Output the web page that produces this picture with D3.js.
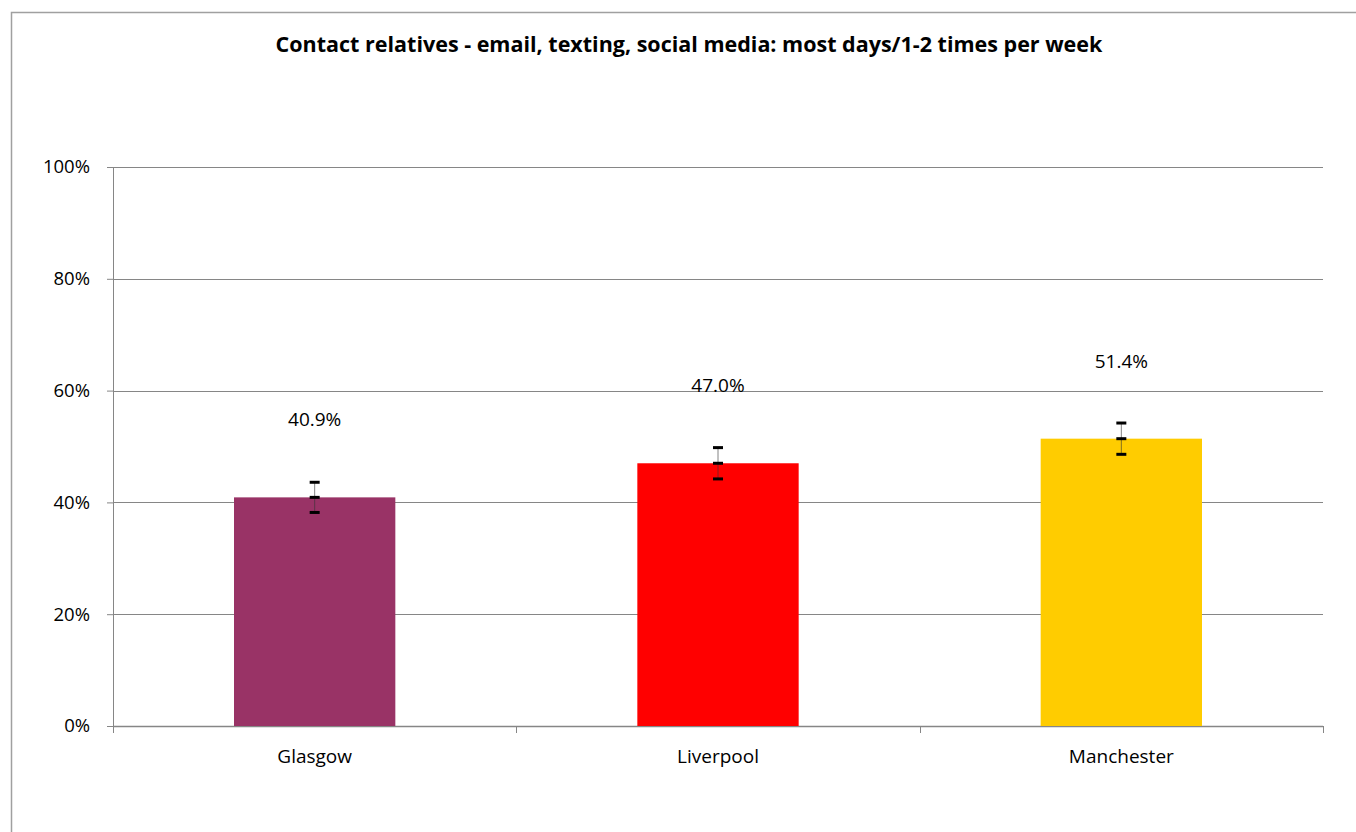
<!DOCTYPE html>
<html>
<head>
<meta charset="utf-8">
<script src="https://cdn.jsdelivr.net/npm/d3@7"></script>
<style>
  body { margin: 0; background: #fff; }
  svg { display: block; font-family: "Open Sans", "Noto Sans", sans-serif; }
</style>
</head>
<body>
<svg id="chart" width="1356" height="832"></svg>
<script>
// chart data
const cities = ['Glasgow', 'Liverpool', 'Manchester'];
const shares = [40.9, 47.0, 51.4];
const errors = [2.7, 2.8, 2.8];
const barColors = ['#993366', '#ff0000', '#ffcc00'];
const yTicks = [0, 20, 40, 60, 80, 100];
const titleText = 'Contact relatives - email, texting, social media: most days/1-2 times per week';

const svg = d3.select('#chart');

// plot area
const margin = { top: 167, right: 33, bottom: 106, left: 113 };
const width = 1356, height = 832;
const innerWidth = width - margin.left - margin.right;
const innerHeight = height - margin.top - margin.bottom;

// outer chart border (runs off right and bottom edges)
svg.append('path')
  .attr('d', 'M11.5,832 V12.5 H1356')
  .attr('fill', 'none').attr('stroke', '#a0a0a0').attr('stroke-width', 1.5);

svg.append('text')
  .attr('x', 689).attr('y', 52)
  .attr('text-anchor', 'middle')
  .attr('font-size', 21.5).attr('font-weight', 'bold')
  .text(titleText);

const g = svg.append('g').attr('transform', `translate(${margin.left},${margin.top})`);

const x = d3.scaleBand().domain(cities).range([0, innerWidth]).paddingInner(0.6).paddingOuter(0.3);
const y = d3.scaleLinear().domain([0, 100]).range([innerHeight, 0]);

// gridlines
g.selectAll('.grid')
  .data(yTicks.filter(d => d > 0))
  .enter().append('line')
  .attr('x1', 0).attr('x2', innerWidth)
  .attr('y1', d => Math.round(y(d)) + 0.5).attr('y2', d => Math.round(y(d)) + 0.5)
  .attr('stroke', '#868686').attr('stroke-width', 1);

// y axis
const yAxis = d3.axisLeft(y).tickValues(yTicks).tickFormat(d => d + '%').tickSize(6).tickPadding(17);
const yg = g.append('g').call(yAxis);
yg.select('.domain').attr('stroke', '#868686');
yg.selectAll('.tick line').attr('stroke', '#868686');
yg.selectAll('text').attr('font-size', 18.5).attr('fill', '#000').attr('font-family', '"Open Sans", sans-serif');

// x axis with tick marks between categories
const xEdge = d3.scaleLinear().domain([0, cities.length]).range([0, innerWidth]);
const xg = g.append('g').attr('transform', `translate(0,${innerHeight})`);
xg.append('line')
  .attr('x1', 0).attr('x2', innerWidth).attr('y1', 0.5).attr('y2', 0.5)
  .attr('stroke', '#868686').attr('stroke-width', 1.5);
xg.selectAll('.xtick')
  .data(d3.range(cities.length + 1))
  .enter().append('line')
  .attr('x1', d => Math.round(xEdge(d)) + 0.5).attr('x2', d => Math.round(xEdge(d)) + 0.5)
  .attr('y1', 0).attr('y2', 7)
  .attr('stroke', '#868686');
xg.selectAll('.xlabel')
  .data(cities)
  .enter().append('text')
  .attr('x', d => x(d) + x.bandwidth() / 2)
  .attr('y', 37)
  .attr('text-anchor', 'middle')
  .attr('font-size', 19)
  .text(d => d);

// bars
g.selectAll('.bar')
  .data(cities)
  .enter().append('rect')
  .attr('x', d => x(d))
  .attr('y', (d, i) => y(shares[i]))
  .attr('width', x.bandwidth())
  .attr('height', (d, i) => innerHeight - y(shares[i]))
  .attr('fill', (d, i) => barColors[i]);

// error bars
const eb = g.selectAll('.err')
  .data(cities)
  .enter().append('g')
  .attr('transform', d => `translate(${x(d) + x.bandwidth() / 2},0)`);
eb.append('line')
  .attr('y1', (d, i) => y(shares[i] + errors[i]))
  .attr('y2', (d, i) => y(shares[i] - errors[i]))
  .attr('stroke', '#333').attr('stroke-width', 1).attr('stroke-opacity', 0.6);
[1, 0, -1].forEach(k => {
  eb.append('line')
    .attr('x1', -5).attr('x2', 5)
    .attr('y1', (d, i) => y(shares[i] + k * errors[i]))
    .attr('y2', (d, i) => y(shares[i] + k * errors[i]))
    .attr('stroke', '#000').attr('stroke-width', 3);
});

// value labels
g.selectAll('.val')
  .data(cities)
  .enter().append('text')
  .attr('x', d => x(d) + x.bandwidth() / 2)
  .attr('y', (d, i) => y(shares[i]) - 71)
  .attr('text-anchor', 'middle')
  .attr('font-size', 19)
  .text((d, i) => shares[i].toFixed(1) + '%');
</script>
</body>
</html>
